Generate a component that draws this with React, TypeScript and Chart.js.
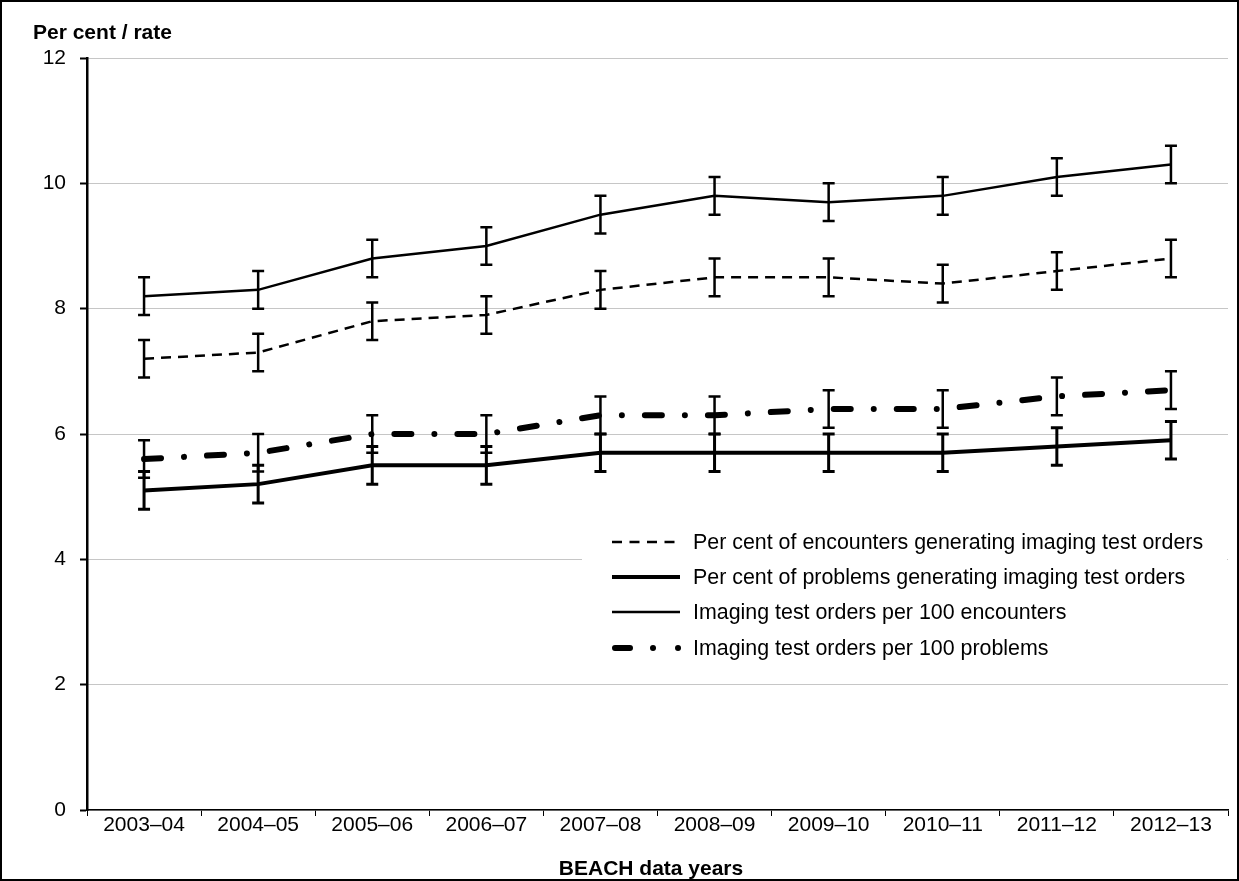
import React, { useEffect, useRef } from "react";
import { Chart, registerables } from "chart.js";

Chart.register(...registerables);

const years = ["2003–04", "2004–05", "2005–06", "2006–07", "2007–08", "2008–09", "2009–10", "2010–11", "2011–12", "2012–13"];

const encPct = [7.2, 7.3, 7.8, 7.9, 8.3, 8.5, 8.5, 8.4, 8.6, 8.8];
const encPctLo = [6.9, 7.0, 7.5, 7.6, 8.0, 8.2, 8.2, 8.1, 8.3, 8.5];
const encPctHi = [7.5, 7.6, 8.1, 8.2, 8.6, 8.8, 8.8, 8.7, 8.9, 9.1];

const probPct = [5.1, 5.2, 5.5, 5.5, 5.7, 5.7, 5.7, 5.7, 5.8, 5.9];
const probPctLo = [4.8, 4.9, 5.2, 5.2, 5.4, 5.4, 5.4, 5.4, 5.5, 5.6];
const probPctHi = [5.4, 5.5, 5.8, 5.8, 6.0, 6.0, 6.0, 6.0, 6.1, 6.2];

const enc100 = [8.2, 8.3, 8.8, 9.0, 9.5, 9.8, 9.7, 9.8, 10.1, 10.3];
const enc100Lo = [7.9, 8.0, 8.5, 8.7, 9.2, 9.5, 9.4, 9.5, 9.8, 10.0];
const enc100Hi = [8.5, 8.6, 9.1, 9.3, 9.8, 10.1, 10.0, 10.1, 10.4, 10.6];

const prob100 = [5.6, 5.7, 6.0, 6.0, 6.3, 6.3, 6.4, 6.4, 6.6, 6.7];
const prob100Lo = [5.3, 5.4, 5.7, 5.7, 6.0, 6.0, 6.1, 6.1, 6.3, 6.4];
const prob100Hi = [5.9, 6.0, 6.3, 6.3, 6.6, 6.6, 6.7, 6.7, 6.9, 7.0];

const seriesNames = [
  "Per cent of encounters generating imaging test orders",
  "Per cent of problems generating imaging test orders",
  "Imaging test orders per 100 encounters",
  "Imaging test orders per 100 problems",
];

const yAxisTitle = "Per cent / rate";
const xAxisTitle = "BEACH data years";

const FONT = "'Liberation Sans', Arial, sans-serif";
const W = 1239;
const H = 881;

const DASH_ENC = [10, 7];
const DASH_DOT = [17, 23, 0.01, 23];

const errorBars = [
  { lo: encPctLo, hi: encPctHi, width: 2.5 },
  { lo: probPctLo, hi: probPctHi, width: 3 },
  { lo: enc100Lo, hi: enc100Hi, width: 2.5 },
  { lo: prob100Lo, hi: prob100Hi, width: 2.5 },
];

const errorBarPlugin = {
  id: "errorBars",
  afterDatasetsDraw(chart: any) {
    const ctx = chart.ctx;
    const xs = chart.scales.x;
    const ys = chart.scales.y;
    ctx.save();
    ctx.strokeStyle = "#000";
    ctx.setLineDash([]);
    errorBars.forEach((eb) => {
      ctx.lineWidth = eb.width;
      eb.lo.forEach((lo: number, i: number) => {
        const x = xs.getPixelForValue(i);
        const yl = ys.getPixelForValue(lo);
        const yh = ys.getPixelForValue(eb.hi[i]);
        ctx.beginPath();
        ctx.moveTo(x, yl);
        ctx.lineTo(x, yh);
        ctx.moveTo(x - 6, yl);
        ctx.lineTo(x + 6, yl);
        ctx.moveTo(x - 6, yh);
        ctx.lineTo(x + 6, yh);
        ctx.stroke();
      });
    });
    ctx.restore();
  },
};

const decorPlugin = {
  id: "decor",
  afterDraw(chart: any) {
    const ctx = chart.ctx;
    const area = chart.chartArea;
    ctx.save();
    // legend box
    ctx.fillStyle = "#fff";
    ctx.fillRect(582, 522, area.right - 582 - 1, 150);
    const rows = [542, 577, 612, 648];
    const x0 = 612;
    const x1 = 680;
    ctx.strokeStyle = "#000";
    ctx.lineCap = "butt";
    ctx.lineWidth = 2.5;
    ctx.setLineDash([10, 7.5]);
    ctx.beginPath();
    ctx.moveTo(x0, rows[0]);
    ctx.lineTo(x1, rows[0]);
    ctx.stroke();
    ctx.setLineDash([]);
    ctx.lineWidth = 4;
    ctx.beginPath();
    ctx.moveTo(x0, rows[1]);
    ctx.lineTo(x1, rows[1]);
    ctx.stroke();
    ctx.lineWidth = 2.5;
    ctx.beginPath();
    ctx.moveTo(x0, rows[2]);
    ctx.lineTo(x1, rows[2]);
    ctx.stroke();
    ctx.lineWidth = 6;
    ctx.lineCap = "round";
    ctx.setLineDash([15, 23, 0.01, 25, 0.01, 200]);
    ctx.beginPath();
    ctx.moveTo(x0 + 3, rows[3]);
    ctx.lineTo(x1, rows[3]);
    ctx.stroke();
    ctx.setLineDash([]);
    ctx.lineCap = "butt";
    ctx.fillStyle = "#000";
    ctx.font = `21.4px ${FONT}`;
    ctx.textAlign = "left";
    ctx.textBaseline = "middle";
    seriesNames.forEach((n, i) => ctx.fillText(n, 693, rows[i] + 1));
    ctx.font = `bold 21px ${FONT}`;
    ctx.textBaseline = "alphabetic";
    ctx.fillText(yAxisTitle, 33, 39);
    ctx.textAlign = "center";
    ctx.fillText(xAxisTitle, 651, 875);
    ctx.lineWidth = 2;
    ctx.strokeStyle = "#000";
    ctx.strokeRect(1, 1, W - 2, H - 2);
    ctx.restore();
  },
};

export default function App() {
  const ref = useRef<HTMLCanvasElement | null>(null);
  useEffect(() => {
    document.body.style.margin = "0";
    const canvas = ref.current;
    if (!canvas) return;
    const chart = new Chart(canvas, {
      type: "line",
      data: {
        labels: years,
        datasets: [
          {
            label: seriesNames[0],
            data: encPct,
            borderColor: "#000",
            borderWidth: 2.5,
            borderDash: DASH_ENC,
            pointRadius: 0,
            tension: 0,
            fill: false,
          },
          {
            label: seriesNames[1],
            data: probPct,
            borderColor: "#000",
            borderWidth: 4,
            pointRadius: 0,
            tension: 0,
            fill: false,
          },
          {
            label: seriesNames[2],
            data: enc100,
            borderColor: "#000",
            borderWidth: 2.5,
            pointRadius: 0,
            tension: 0,
            fill: false,
          },
          {
            label: seriesNames[3],
            data: prob100,
            borderColor: "#000",
            borderWidth: 6,
            borderDash: DASH_DOT,
            borderCapStyle: "round",
            pointRadius: 0,
            tension: 0,
            fill: false,
          },
        ],
      },
      options: {
        responsive: false,
        animation: false,
        devicePixelRatio: 1,
        layout: { padding: { top: 58, left: 0, right: 11, bottom: 0 } },
        plugins: {
          legend: { display: false },
          tooltip: { enabled: false },
          title: { display: false },
        },
        scales: {
          x: {
            type: "category",
            offset: true,
            afterFit: (s: any) => {
              s.height = 71;
            },
            grid: {
              offset: true,
              drawOnChartArea: false,
              drawTicks: true,
              tickLength: 6,
              tickColor: "#000",
              tickWidth: 1,
            },
            border: { display: true, color: "#000", width: 1.5 },
            ticks: {
              color: "#000",
              font: { family: FONT, size: 21 },
              padding: -3,
              maxRotation: 0,
              autoSkip: false,
            },
          },
          y: {
            min: 0,
            max: 12,
            afterFit: (s: any) => {
              s.width = 87;
            },
            grid: {
              color: "#8c8c8c",
              lineWidth: 1,
              drawTicks: true,
              tickLength: 7,
              tickColor: "#000",
              tickWidth: 2,
              tickBorderDash: [0, 0],
            },
            border: { display: true, color: "#000", width: 2.5, dash: [1, 1] },
            ticks: {
              stepSize: 2,
              color: "#000",
              font: { family: FONT, size: 21 },
              padding: 14,
            },
          },
        },
      },
      plugins: [errorBarPlugin, decorPlugin],
    } as any);
    return () => chart.destroy();
  }, []);
  return (
    <div style={{ position: "absolute", left: 0, top: 0, width: W, height: H, background: "#fff" }}>
      <canvas ref={ref} width={W} height={H} style={{ display: "block", width: W, height: H }} />
    </div>
  );
}
